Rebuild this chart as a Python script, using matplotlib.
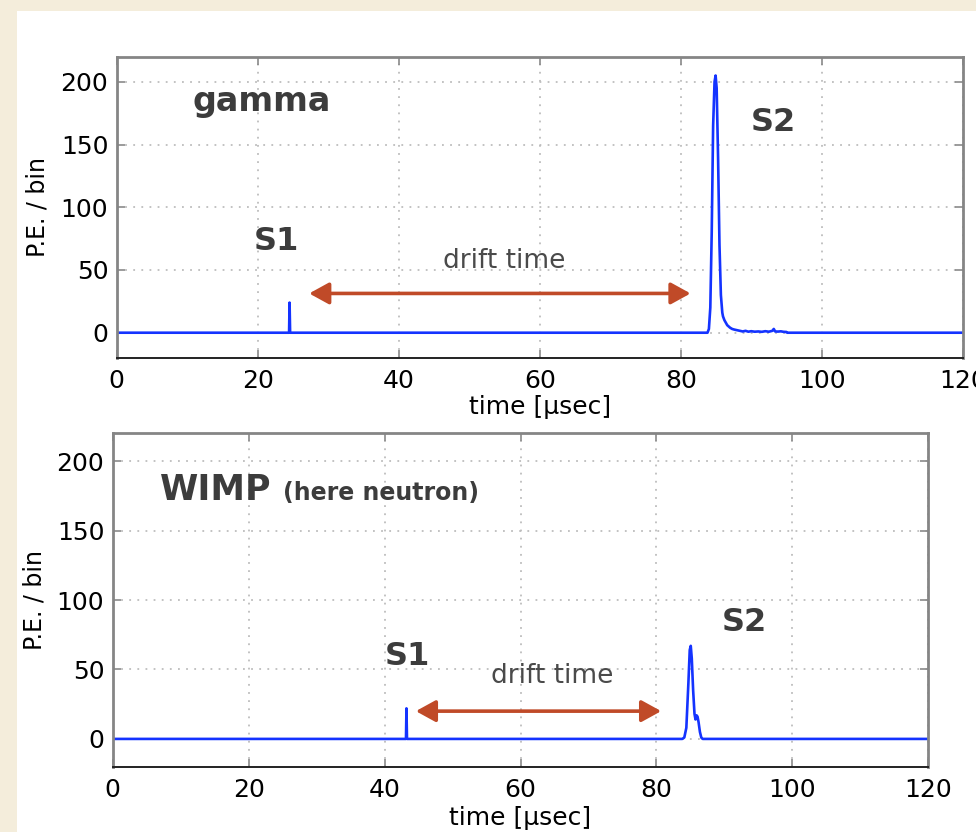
import matplotlib
matplotlib.use("Agg")
import matplotlib.pyplot as plt
from matplotlib.patches import Rectangle

# ---------------- data ----------------
gamma_time = [0, 24.45, 24.52, 24.6, 83.8, 84.0, 84.2, 84.4, 84.6, 84.8, 84.95, 85.1, 85.3,
              85.5, 85.7, 85.9, 86.0, 86.2, 86.4, 86.6, 86.8, 87.0, 87.3, 87.6, 88.0, 88.4,
              88.8, 89.2, 89.6, 90.0, 90.5, 91.0, 91.5, 92.0, 92.5, 93.0, 93.2, 93.4, 93.8,
              94.2, 94.6, 95.0, 95.1, 120]
gamma_pe = [0, 0, 24, 0, 0, 3, 20, 80, 165, 200, 205, 195, 140,
            70, 30, 16, 13, 10, 8, 6, 5, 4, 3, 2.5, 2, 1.5,
            1, 1.5, 0.8, 1.2, 0.8, 1.0, 0.7, 1.2, 0.8, 1.5, 3, 1.0, 0.9,
            1.1, 0.7, 0.6, 0, 0]

wimp_time = [0, 43.15, 43.22, 43.3, 83.8, 84.1, 84.4, 84.7, 84.9, 85.05, 85.2, 85.4, 85.6,
             85.75, 85.9, 86.05, 86.2, 86.4, 86.6, 86.8, 120]
wimp_pe = [0, 0, 22, 0, 0, 1, 8, 40, 64, 67, 58, 35, 18,
           14, 17, 16, 12, 5, 1, 0, 0]

x_ticks = [0, 20, 40, 60, 80, 100, 120]
y_ticks = [0, 50, 100, 150, 200]
x_label = "time [µsec]"
y_label = "P.E. / bin"

# annotation anchors (data coords)
gamma_drift = (27.3, 81.4, 31.3)
wimp_drift = (44.6, 80.7, 20.0)

# ---------------- style ----------------
BG = "#f4eddb"
LINE = "#1433ff"
ARROW = "#c04a28"
TXT = "#3c3c3c"

plt.rcParams["font.family"] = ["DejaVu Sans"]

fig = plt.figure(figsize=(9.76, 8.32), dpi=100, facecolor=BG)
fig.patches.append(Rectangle((17 / 976, 0), 1, 1 - 11 / 832, transform=fig.transFigure,
                             facecolor="white", edgecolor="none", zorder=-10))

W, H = 976, 832


def make_axes(l, t, r, b):
    return fig.add_axes([l / W, 1 - b / H, (r - l) / W, (b - t) / H])


def style(ax, axw, axh, xlab_off, ylab_x):
    ax.set_xlim(0, 120)
    ax.set_ylim(-20, 220)
    ax.set_xticks(x_ticks)
    ax.set_yticks(y_ticks)
    ax.set_xticklabels([str(v) for v in x_ticks])
    ax.set_yticklabels([str(v) for v in y_ticks])
    ax.tick_params(axis="both", direction="in", length=6, width=1.2, color="#8a8a8a",
                   top=True, right=True, labelsize=18, labelcolor="black")
    ax.tick_params(axis="x", pad=8)
    ax.tick_params(axis="y", pad=6)
    ax.grid(True, color="#bdbdbd", linestyle=(0, (1, 3.5)), linewidth=1.3)
    ax.set_axisbelow(True)
    for s in ("left", "top", "right"):
        ax.spines[s].set_color("#858585")
        ax.spines[s].set_linewidth(2.0)
    ax.spines["bottom"].set_color("#222222")
    ax.spines["bottom"].set_linewidth(1.4)
    ax.set_xlabel(x_label, fontsize=18, va="center")
    ax.set_ylabel(y_label, fontsize=17, va="center", ha="center")
    ax.xaxis.set_label_coords(0.5, -xlab_off / axh)
    ax.yaxis.set_label_coords(ylab_x / axw, 0.5)


def drift_arrow(ax, x0, x1, y):
    ax.annotate("", xy=(x1, y), xytext=(x0, y),
                arrowprops=dict(arrowstyle="<|-|>,head_length=0.4,head_width=0.22",
                                color=ARROW, lw=2.6, mutation_scale=30,
                                shrinkA=0, shrinkB=0))


# ---------------- top panel: gamma ----------------
ax1 = make_axes(116.7, 56.7, 962.7, 357.8)
style(ax1, 846.0, 301.1, 49, -79)
ax1.plot(gamma_time, gamma_pe, color=LINE, lw=1.9, solid_joinstyle="round")
ax1.text(20.5, 177, "gamma", fontsize=24, fontweight="bold", color=TXT,
         ha="center", va="baseline")
ax1.text(22.7, 65.6, "S1", fontsize=23, fontweight="bold", color=TXT,
         ha="center", va="baseline")
ax1.text(93.1, 161, "S2", fontsize=23, fontweight="bold", color=TXT,
         ha="center", va="baseline")
ax1.text(54.9, 51.4, "drift time", fontsize=19, color="#4a4a4a",
         ha="center", va="baseline")
drift_arrow(ax1, *gamma_drift[:2], gamma_drift[2])

# ---------------- bottom panel: WIMP ----------------
ax2 = make_axes(112.7, 433.3, 928.3, 766.7)
style(ax2, 815.6, 333.4, 51, -78)
ax2.plot(wimp_time, wimp_pe, color=LINE, lw=1.9, solid_joinstyle="round")
ax2.text(7.0, 172, "WIMP", fontsize=25, fontweight="bold", color=TXT,
         ha="left", va="baseline")
ax2.text(25.1, 172, "(here neutron)", fontsize=17, fontweight="bold", color=TXT,
         ha="left", va="baseline")
ax2.text(43.4, 53, "S1", fontsize=23, fontweight="bold", color=TXT,
         ha="center", va="baseline")
ax2.text(93.0, 78, "S2", fontsize=23, fontweight="bold", color=TXT,
         ha="center", va="baseline")
ax2.text(64.6, 40, "drift time", fontsize=19, color="#4a4a4a",
         ha="center", va="baseline")
drift_arrow(ax2, *wimp_drift[:2], wimp_drift[2])

fig.savefig("out.png", dpi=100, facecolor=BG)
